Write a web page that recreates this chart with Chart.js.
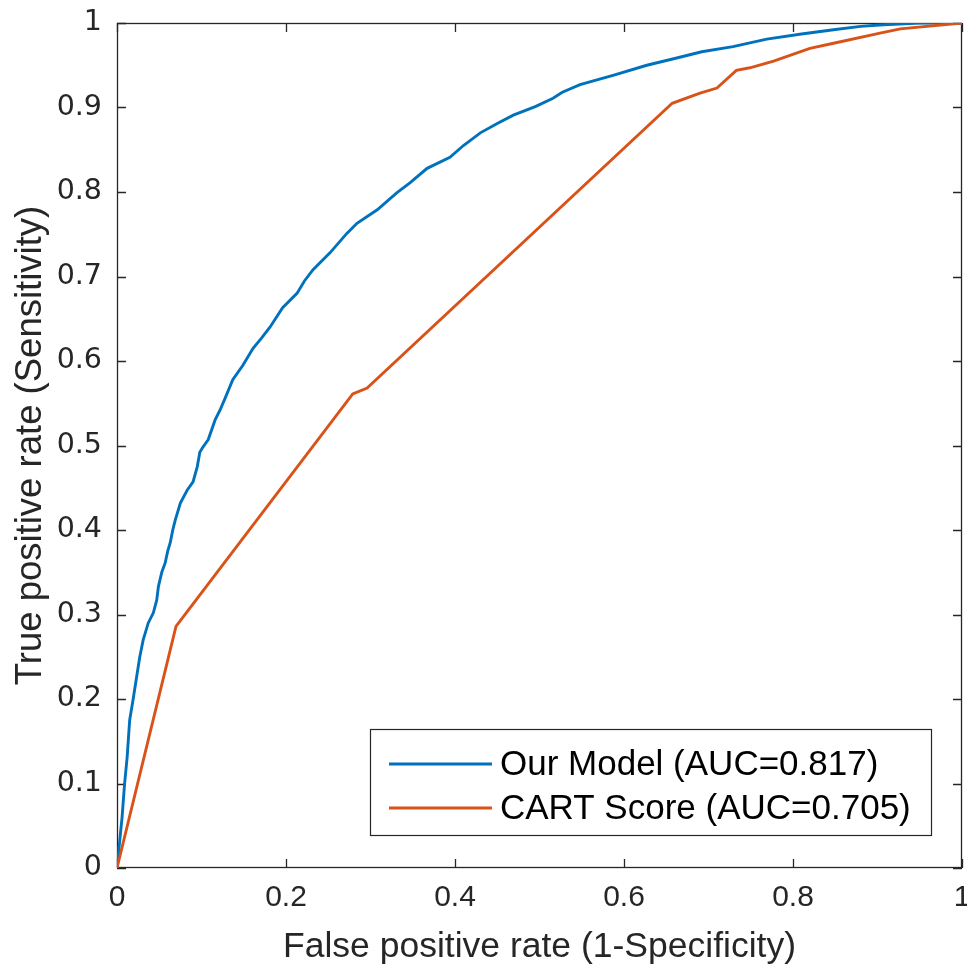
<!DOCTYPE html>
<html>
<head>
<meta charset="utf-8">
<script src="https://cdn.jsdelivr.net/npm/chart.js@4/dist/chart.umd.min.js"></script>
<style>
  html, body { margin: 0; padding: 0; background: #ffffff; }
  canvas { display: block; }
</style>
</head>
<body>
<canvas id="c" width="967" height="973"></canvas>
<script>
// ---- data ----
const seriesLabels = ["Our Model (AUC=0.817)", "CART Score (AUC=0.705)"];

const modelFPR = [0, 0.003, 0.006, 0.009, 0.012, 0.015, 0.019, 0.024, 0.027, 0.031, 0.037, 0.043, 0.047, 0.049,
  0.053, 0.057, 0.060, 0.063, 0.066, 0.069, 0.075, 0.083, 0.090, 0.095, 0.098, 0.101, 0.108, 0.116, 0.122,
  0.128, 0.137, 0.149, 0.161, 0.171, 0.181, 0.196, 0.213, 0.222, 0.232, 0.252, 0.272, 0.284, 0.308, 0.331,
  0.347, 0.367, 0.394, 0.410, 0.430, 0.450, 0.469, 0.495, 0.516, 0.527, 0.548, 0.587, 0.627, 0.660, 0.692,
  0.729, 0.769, 0.810, 0.848, 0.880, 0.907, 0.950, 1.0];
const modelTPR = [0, 0.030, 0.060, 0.100, 0.131, 0.175, 0.199, 0.231, 0.250, 0.270, 0.290, 0.302, 0.317, 0.333,
  0.350, 0.361, 0.375, 0.385, 0.400, 0.412, 0.432, 0.447, 0.457, 0.475, 0.492, 0.497, 0.507, 0.530, 0.542,
  0.556, 0.578, 0.595, 0.615, 0.627, 0.640, 0.663, 0.680, 0.695, 0.708, 0.728, 0.751, 0.763, 0.779, 0.799,
  0.811, 0.828, 0.841, 0.855, 0.870, 0.881, 0.891, 0.901, 0.911, 0.918, 0.927, 0.938, 0.950, 0.958, 0.966,
  0.972, 0.981, 0.987, 0.992, 0.996, 0.998, 1.0, 1.0];

const cartFPR = [0, 0.0698, 0.279, 0.296, 0.657, 0.690, 0.710, 0.733, 0.749, 0.777, 0.820, 0.848, 0.903, 0.927, 1.0];
const cartTPR = [0, 0.286, 0.561, 0.568, 0.905, 0.917, 0.923, 0.944, 0.947, 0.955, 0.970, 0.976, 0.988, 0.993, 1.0];

const xTickValues = [0, 0.2, 0.4, 0.6, 0.8, 1];
const yTickValues = [0, 0.1, 0.2, 0.3, 0.4, 0.5, 0.6, 0.7, 0.8, 0.9, 1];
const xTitle = "False positive rate (1-Specificity)";
const yTitle = "True positive rate (Sensitivity)";

// ---- styling ----
const BLUE = "#0072BD";
const ORANGE = "#D95319";
const INK = "#262626";

function toPoints(xs, ys) { return xs.map((x, i) => ({ x: x, y: ys[i] })); }
function fmt(v) { return String(Math.round(v * 100) / 100); }

const boxPlugin = {
  id: "matlabBox",
  beforeDatasetsDraw(chart) {
    const { ctx, chartArea: a, scales } = chart;
    ctx.save();
    ctx.strokeStyle = INK;
    ctx.lineWidth = 1.3;
    ctx.strokeRect(Math.round(a.left) + 0.5, Math.round(a.top) + 0.5,
                   Math.round(a.right - a.left) - 1, Math.round(a.bottom - a.top) - 1);
    const tl = 9;
    ctx.beginPath();
    xTickValues.forEach(v => {
      const px = Math.round(scales.x.getPixelForValue(v)) + 0.5;
      ctx.moveTo(px, a.bottom); ctx.lineTo(px, a.bottom - tl);
      ctx.moveTo(px, a.top); ctx.lineTo(px, a.top + tl);
    });
    yTickValues.forEach(v => {
      const py = Math.round(scales.y.getPixelForValue(v)) + 0.5;
      ctx.moveTo(a.left, py); ctx.lineTo(a.left + tl, py);
      ctx.moveTo(a.right, py); ctx.lineTo(a.right - tl, py);
    });
    ctx.stroke();
    ctx.restore();
  }
};

const legendPlugin = {
  id: "insideLegend",
  afterDraw(chart) {
    const { ctx, chartArea: a } = chart;
    const right = a.right - 31, bottom = a.bottom - 33;
    const left = a.left + 253, top = a.top + 706;
    ctx.save();
    ctx.fillStyle = "#ffffff";
    ctx.fillRect(left, top, right - left, bottom - top);
    ctx.strokeStyle = INK;
    ctx.lineWidth = 1.2;
    ctx.strokeRect(Math.round(left) + 0.5, Math.round(top) + 0.5, Math.round(right - left), Math.round(bottom - top));
    const rows = [top + 35, top + 79];
    const colors = [BLUE, ORANGE];
    ctx.font = "35px 'Liberation Sans', Arial, sans-serif";
    ctx.textBaseline = "middle";
    ctx.textAlign = "left";
    seriesLabels.forEach((lab, i) => {
      ctx.strokeStyle = colors[i];
      ctx.lineWidth = 3;
      ctx.beginPath();
      ctx.moveTo(left + 19, rows[i]);
      ctx.lineTo(left + 122, rows[i]);
      ctx.stroke();
      ctx.fillStyle = "#000000";
      ctx.fillText(lab, left + 130, rows[i] + 1);
    });
    ctx.restore();
  }
};

new Chart(document.getElementById("c"), {
  type: "scatter",
  data: {
    datasets: [
      { label: seriesLabels[0], data: toPoints(modelFPR, modelTPR), showLine: true, borderColor: BLUE,
        backgroundColor: BLUE, borderWidth: 2.9, pointRadius: 0, tension: 0, order: 2 },
      { label: seriesLabels[1], data: toPoints(cartFPR, cartTPR), showLine: true, borderColor: ORANGE,
        backgroundColor: ORANGE, borderWidth: 2.9, pointRadius: 0, tension: 0, order: 1 }
    ]
  },
  options: {
    responsive: false,
    devicePixelRatio: 1,
    animation: false,
    layout: { padding: { top: 23, right: 5, left: 0, bottom: 0 } },
    plugins: { legend: { display: false }, tooltip: { enabled: false } },
    scales: {
      x: {
        type: "linear", min: 0, max: 1,
        border: { display: false },
        grid: { display: false, drawTicks: false },
        afterBuildTicks: s => { s.ticks = xTickValues.map(v => ({ value: v })); },
        ticks: { color: INK, padding: 12, maxRotation: 0, autoSkip: false, callback: v => fmt(v),
                 font: { family: "'Liberation Sans', Arial, sans-serif", size: 30 } },
        title: { display: true, text: xTitle, color: INK, padding: { top: 0, bottom: 4 },
                 font: { family: "'Liberation Sans', Arial, sans-serif", size: 35.5 } },
        afterFit: s => { s.height = 105; s.paddingLeft = 0; s.paddingRight = 0; }
      },
      y: {
        type: "linear", min: 0, max: 1,
        border: { display: false },
        grid: { display: false, drawTicks: false },
        afterBuildTicks: s => { s.ticks = yTickValues.map(v => ({ value: v })); },
        ticks: { color: INK, padding: 15, autoSkip: false, callback: v => fmt(v),
                 font: { family: "'DejaVu Sans', Verdana, sans-serif", size: 28.5 } },
        title: { display: true, text: yTitle, color: INK, padding: { top: 9, bottom: 0 },
                 font: { family: "'Liberation Sans', Arial, sans-serif", size: 36.5 } },
        afterFit: s => { s.width = 117; s.paddingTop = 0; s.paddingBottom = 0; }
      }
    }
  },
  plugins: [boxPlugin, legendPlugin]
});
</script>
</body>
</html>
